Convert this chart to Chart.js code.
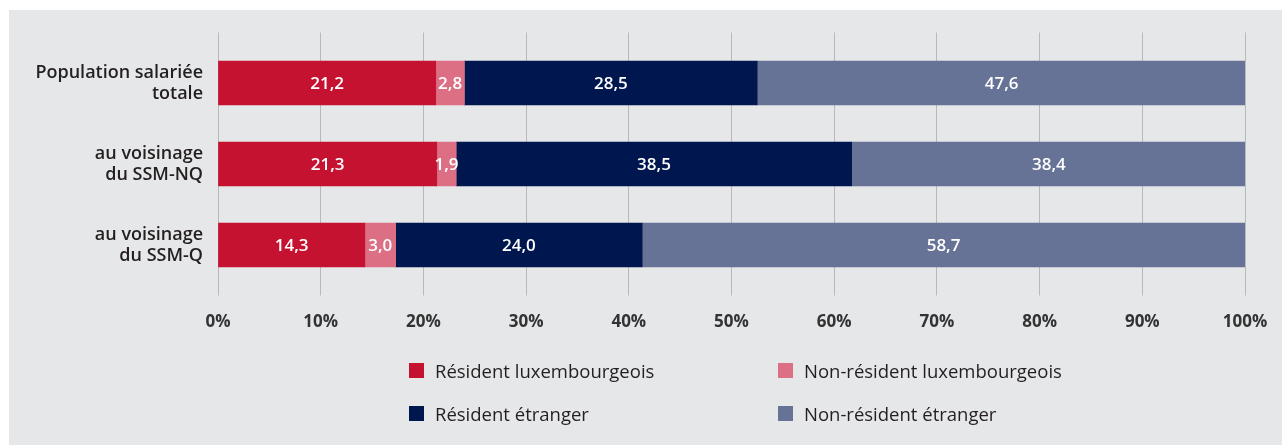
<!DOCTYPE html>
<html>
<head>
<meta charset="utf-8">
<script src="https://cdn.jsdelivr.net/npm/chart.js@4"></script>
<style>
  html, body { margin: 0; padding: 0; background: #ffffff; }
  #panel { position: absolute; left: 9px; top: 10px; width: 1273px; height: 435px; background: #e6e7e9; }
  #wrap { position: absolute; left: 0; top: 0; width: 1273px; height: 340px; }
  #legend { position: absolute; left: 0; top: 0; width: 1273px; height: 435px; pointer-events: none;
            font-family: "Open Sans", sans-serif; font-size: 18.5px; color: #231f20; }
  .li { position: absolute; display: flex; align-items: center; white-space: nowrap; }
  .sw { width: 15px; height: 15px; margin-right: 11px; }
</style>
</head>
<body>
<div id="panel">
  <div id="wrap"><canvas id="c"></canvas></div>
  <div id="legend"></div>
</div>
<script>
const categories = [["Population salariée", "totale"], ["au voisinage", "du SSM-NQ"], ["au voisinage", "du SSM-Q"]];
const seriesNames = ["Résident luxembourgeois", "Non-résident luxembourgeois", "Résident étranger", "Non-résident étranger"];
const residentLux = [21.2, 21.3, 14.3];
const nonResidentLux = [2.8, 1.9, 3.0];
const residentEtr = [28.5, 38.5, 24.0];
const nonResidentEtr = [47.6, 38.4, 58.7];
const tickValues = [0, 10, 20, 30, 40, 50, 60, 70, 80, 90, 100];
const colors = ["#c41230", "#dc6f84", "#00164e", "#667296"];

const seriesValues = [residentLux, nonResidentLux, residentEtr, nonResidentEtr];

const valueLabels = {
  id: 'valueLabels',
  afterDatasetsDraw(chart) {
    const ctx = chart.ctx;
    ctx.save();
    ctx.fillStyle = '#ffffff';
    ctx.font = '600 17px "Open Sans"';
    ctx.textAlign = 'center';
    ctx.textBaseline = 'middle';
    chart.data.datasets.forEach((ds, i) => {
      const meta = chart.getDatasetMeta(i);
      meta.data.forEach((el, j) => {
        const p = el.getProps(['x', 'y', 'base'], true);
        const cx = (p.x + p.base) / 2;
        ctx.fillText(ds.data[j].toFixed(1).replace('.', ','), cx, p.y + 1);
      });
    });
    ctx.restore();
  }
};

const fixH = (h) => (s) => { s.height = h; s.paddingLeft = 0; s.paddingRight = 0; };

new Chart(document.getElementById('c'), {
  type: 'bar',
  data: {
    labels: categories,
    datasets: seriesValues.map((vals, i) => ({
      label: seriesNames[i],
      data: vals,
      backgroundColor: colors[i],
      borderWidth: 0,
      barThickness: 44
    }))
  },
  options: {
    indexAxis: 'y',
    responsive: true,
    maintainAspectRatio: false,
    animation: false,
    layout: { padding: { top: 22.5, right: 37, bottom: 14.5, left: 0 } },
    plugins: { legend: { display: false }, tooltip: { enabled: false } },
    scales: {
      x: {
        stacked: true, min: 0, max: 100, position: 'bottom',
        afterBuildTicks: (s) => { s.ticks = tickValues.map(v => ({ value: v })); },
        afterFit: fixH(50),
        grid: { color: '#b9b9b9', lineWidth: 1, tickLength: 10, drawTicks: true },
        border: { display: false },
        ticks: { padding: 16, color: '#333333', font: { family: 'Open Sans', size: 17, weight: 'bold' },
                 callback: (v) => v + '%' }
      },
      x2: {
        type: 'linear', min: 0, max: 100, position: 'top',
        afterBuildTicks: (s) => { s.ticks = tickValues.map(v => ({ value: v })); },
        afterFit: fixH(10),
        grid: { color: '#b9b9b9', lineWidth: 1, tickLength: 10, drawTicks: true, drawOnChartArea: false },
        border: { display: false },
        ticks: { display: false }
      },
      y: {
        stacked: true,
        afterFit: (s) => { s.width = 209; },
        grid: { display: false },
        border: { display: false },
        ticks: { padding: 7, color: '#231f20', font: { family: 'Open Sans', size: 18, weight: '600', lineHeight: 1.17 } }
      }
    }
  },
  plugins: [valueLabels]
});

const legendEl = document.getElementById('legend');
const legendPos = [[400, 360], [769, 360], [400, 403], [769, 403]];
seriesNames.forEach((name, i) => {
  const d = document.createElement('div');
  d.className = 'li';
  d.style.left = legendPos[i][0] + 'px';
  d.style.top = (legendPos[i][1] - 12) + 'px';
  d.style.height = '24px';
  const sw = document.createElement('span');
  sw.className = 'sw';
  sw.style.background = colors[i];
  const t = document.createElement('span');
  t.textContent = name;
  d.appendChild(sw); d.appendChild(t);
  legendEl.appendChild(d);
});
</script>
</body>
</html>
